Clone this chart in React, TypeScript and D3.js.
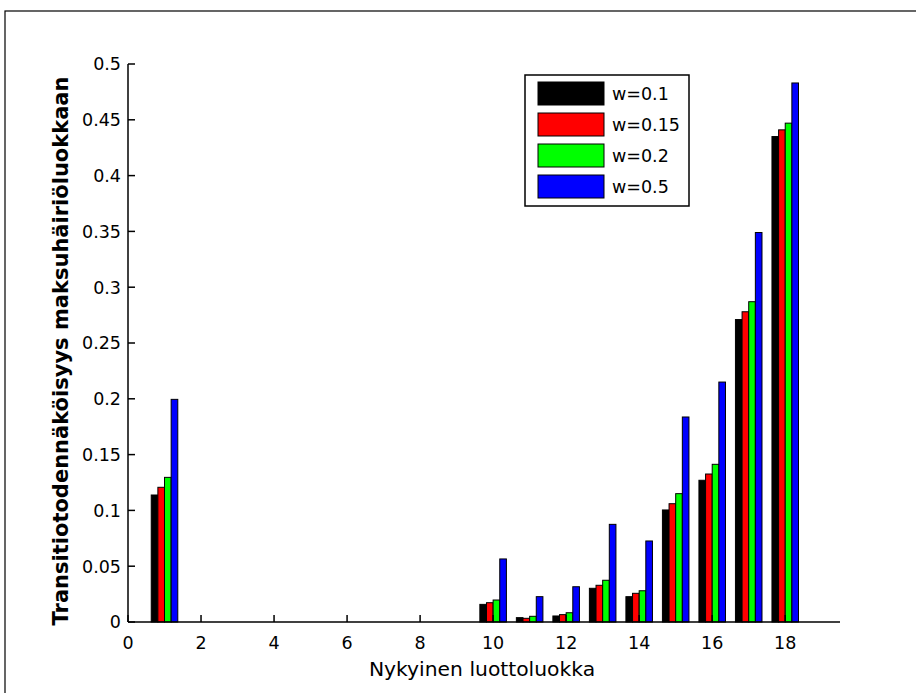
import * as d3 from "d3";

// categories 1..18 (current credit class)
const categories = [1, 2, 3, 4, 5, 6, 7, 8, 9, 10, 11, 12, 13, 14, 15, 16, 17, 18];
const seriesNames = ["w=0.1", "w=0.15", "w=0.2", "w=0.5"];
const seriesColors = ["#000000", "#ff0000", "#00ff00", "#0000ff"];

const w01 = [0.1138, 0, 0, 0, 0, 0, 0, 0, 0, 0.0158, 0.0039, 0.0054, 0.0302, 0.0227, 0.1004, 0.127, 0.271, 0.435];
const w015 = [0.1207, 0, 0, 0, 0, 0, 0, 0, 0, 0.0173, 0.0033, 0.0066, 0.0329, 0.0257, 0.106, 0.1326, 0.278, 0.441];
const w02 = [0.1296, 0, 0, 0, 0, 0, 0, 0, 0, 0.0197, 0.0051, 0.0083, 0.0374, 0.028, 0.115, 0.1413, 0.287, 0.447];
const w05 = [0.1995, 0, 0, 0, 0, 0, 0, 0, 0, 0.0565, 0.0227, 0.0316, 0.0875, 0.0726, 0.1837, 0.215, 0.349, 0.483];

const xTicks = [0, 2, 4, 6, 8, 10, 12, 14, 16, 18];
const yTicks = [0, 0.05, 0.1, 0.15, 0.2, 0.25, 0.3, 0.35, 0.4, 0.45, 0.5];

const series = [w01, w015, w02, w05];

export default function App() {
  const width = 916;
  const height = 693;
  const left = 128, right = 840, top = 64, bottom = 622;

  const x = d3.scaleLinear().domain([0, 19.5]).range([left, right]);
  const y = d3.scaleLinear().domain([0, 0.5]).range([bottom, top]);

  const groupWidth = 0.727; // MATLAB grouped bar width in data units
  const barW = groupWidth / series.length;
  const fmt = (v: number) => (v === 0 ? "0" : d3.format("~g")(v));
  const font = "'DejaVu Sans', sans-serif";

  return (
    <svg
      width={width}
      height={height}
      style={{ position: "absolute", left: 0, top: 0, background: "#fff" }}
      fontFamily={font}
    >
      <rect x={5} y={11} width={1000} height={800} fill="#fff" stroke="#000" strokeWidth={1.2} />

      {/* bars */}
      {series.map((vals, s) => (
        <g key={s} fill={seriesColors[s]} stroke="#000" strokeWidth={1}>
          {categories.map((c, i) => {
            const x0 = x(c - groupWidth / 2 + s * barW);
            const x1 = x(c - groupWidth / 2 + (s + 1) * barW);
            return (
              <rect
                key={c}
                x={x0}
                y={y(vals[i])}
                width={x1 - x0}
                height={y(0) - y(vals[i])}
              />
            );
          })}
        </g>
      ))}

      {/* axes */}
      <g stroke="#000" strokeWidth={1.5} fill="none">
        <line x1={left} x2={right} y1={bottom} y2={bottom} />
        <line x1={left} x2={left} y1={bottom} y2={top} />
        {xTicks.map((t) => (
          <line key={t} x1={x(t)} x2={x(t)} y1={bottom} y2={bottom - 7} />
        ))}
        {yTicks.map((t) => (
          <line key={t} x1={left} x2={left + 7} y1={y(t)} y2={y(t)} />
        ))}
      </g>
      <g fontSize={17.5} fill="#000">
        {xTicks.map((t) => (
          <text key={t} x={x(t)} y={bottom + 27} textAnchor="middle">
            {t}
          </text>
        ))}
        {yTicks.map((t) => (
          <text key={t} x={left - 7} y={y(t)} dy="0.36em" textAnchor="end">
            {fmt(t)}
          </text>
        ))}
      </g>
      <text x={482} y={676} textAnchor="middle" fontSize={20.3}>
        Nykyinen luottoluokka
      </text>
      <text
        transform={`translate(68,${(top + bottom) / 2 + 8}) rotate(-90)`}
        textAnchor="middle"
        fontSize={21}
        fontWeight="bold"
      >
        Transitiotodennäköisyys maksuhäiriöluokkaan
      </text>

      {/* legend */}
      <g>
        <rect x={525} y={75} width={164} height={131} fill="#fff" stroke="#000" strokeWidth={1.5} />
        {seriesNames.map((n, i) => (
          <g key={n} transform={`translate(538,${82 + i * 31})`}>
            <rect width={66} height={23} fill={seriesColors[i]} stroke="#000" strokeWidth={1} />
            <text x={74} y={12} dy="0.36em" fontSize={17.5}>
              {n}
            </text>
          </g>
        ))}
      </g>
    </svg>
  );
}
